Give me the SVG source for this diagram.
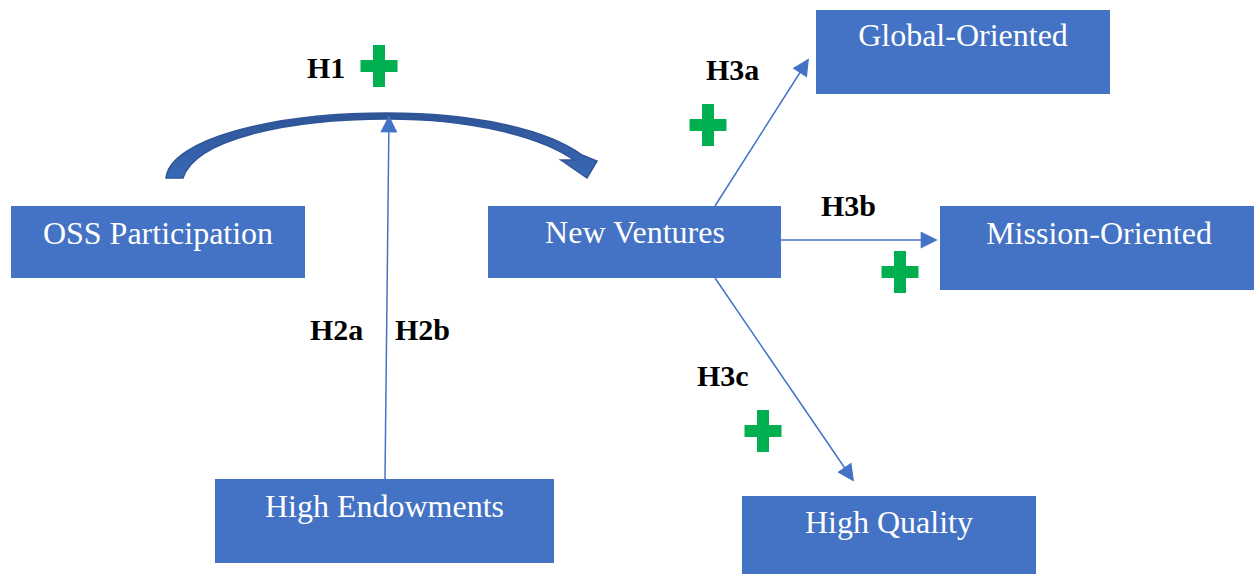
<svg xmlns="http://www.w3.org/2000/svg" width="1254" height="575" viewBox="0 0 1254 575">
<style>
.box{fill:#4472C4}
.bt{font-family:"Liberation Serif","Times New Roman",serif;font-size:32px;fill:#fff;text-anchor:middle}
.lbl{font-family:"Liberation Serif","Times New Roman",serif;font-size:30px;font-weight:bold;fill:#000}
.con{stroke:#4472C4;stroke-width:1.5;fill:none;marker-end:url(#ah)}
.plus{fill:#00B050}
</style>
<defs>
<marker id="ah" viewBox="0 0 10 10" refX="9" refY="5" markerUnits="userSpaceOnUse" markerWidth="18" markerHeight="17" orient="auto">
<path d="M0,0 L10,5 L0,10 Z" fill="#4472C4"/>
</marker>
<path id="pl" d="M-6,-21 H6 V-6 H18.5 V6 H6 V21 H-6 V6 H-18.5 V-6 H-6 Z"/>
<linearGradient id="arcg" x1="0" y1="0" x2="0" y2="1">
<stop offset="0" stop-color="#2F5597"/>
<stop offset="1" stop-color="#3A68B5"/>
</linearGradient>
</defs>
<g id="connectors">
<path d="M166,178 C170,140 270,113 388,113 C470,113 545,128 582,155 L597,161 L587,178 L561,160 L574,160 C540,136 470,119 388,119 C285,119 195,140 183,178 Z" fill="url(#arcg)" stroke="#2F5597" stroke-width="1.5"/>
<line class="con" x1="385" y1="479" x2="389" y2="117"/>
<line class="con" x1="715" y1="206" x2="808" y2="60"/>
<line class="con" x1="781" y1="240" x2="936" y2="240"/>
<line class="con" x1="715" y1="278" x2="853" y2="480"/>
</g>
<g id="oss"><rect class="box" x="11" y="206" width="294" height="72"/><text class="bt" x="158" y="244">OSS Participation</text></g>
<g id="nv"><rect class="box" x="488" y="206" width="293" height="72"/><text class="bt" x="635" y="243">New Ventures</text></g>
<g id="global"><rect class="box" x="816" y="10" width="294" height="84"/><text class="bt" x="963" y="46">Global-Oriented</text></g>
<g id="mission"><rect class="box" x="940" y="206" width="314" height="84"/><text class="bt" x="1099" y="244">Mission-Oriented</text></g>
<g id="endow"><rect class="box" x="215" y="479" width="339" height="84"/><text class="bt" x="384.5" y="517">High Endowments</text></g>
<g id="quality"><rect class="box" x="742" y="496" width="294" height="78"/><text class="bt" x="889" y="533">High Quality</text></g>
<g id="labels">
<text class="lbl" x="307" y="78">H1</text>
<text class="lbl" x="706" y="80">H3a</text>
<text class="lbl" x="821" y="216">H3b</text>
<text class="lbl" x="310" y="340">H2a</text>
<text class="lbl" x="395" y="340">H2b</text>
<text class="lbl" x="697" y="386">H3c</text>
</g>
<g id="pluses" class="plus">
<use href="#pl" x="379" y="66"/>
<use href="#pl" x="708" y="125"/>
<use href="#pl" x="900" y="272"/>
<use href="#pl" x="763" y="431"/>
</g>
</svg>
